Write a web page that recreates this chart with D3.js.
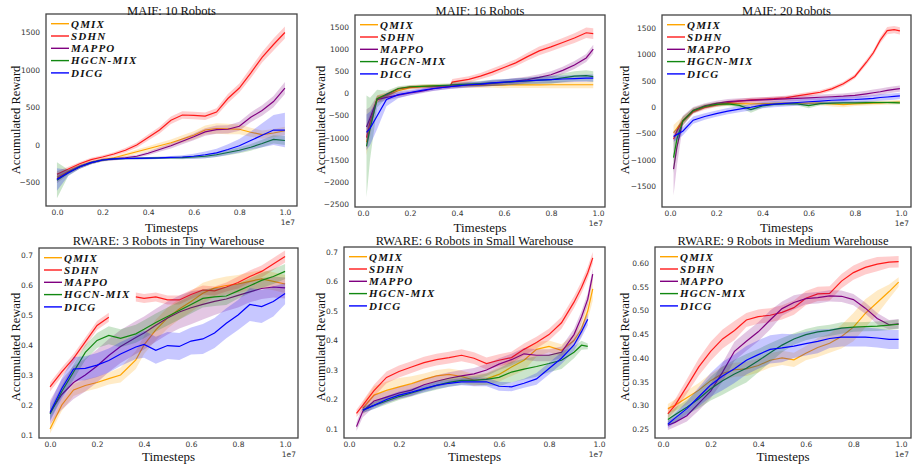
<!DOCTYPE html>
<html>
<head>
<meta charset="utf-8">
<script src="https://cdn.jsdelivr.net/npm/d3@7"></script>
<style>
body { margin: 0; background: #fff; }
svg { display: block; }
</style>
</head>
<body>
<svg id="chart" width="913" height="466"></svg>
<script>
// ---- data (timesteps in units of 1e7) ----
var methodNames = ["QMIX", "SDHN", "MAPPO", "HGCN-MIX", "DICG"];
var xTickValues = [0, 0.2, 0.4, 0.6, 0.8, 1.0];

// MAIF: 10 robots
var maif10T = [0, .05, .1, .15, .2, .25, .3, .35, .4, .45, .5, .55, .6, .65, .7, .75, .8, .85, .9, .95, 1.0];
var maif10Qmix = [-430, -350, -280, -230, -195, -170, -130, -90, -50, -10, 30, 80, 130, 200, 220, 215, 210, 170, 140, 160, 190];
var maif10QmixBand = [50, 30, 25, 20, 20, 20, 25, 30, 35, 40, 45, 50, 55, 60, 70, 70, 65, 60, 55, 55, 55];
var maif10Sdhn = [-390, -320, -250, -195, -160, -120, -70, 0, 100, 200, 330, 400, 395, 385, 440, 620, 760, 960, 1170, 1340, 1500];
var maif10SdhnBand = [40, 30, 25, 25, 25, 25, 30, 35, 40, 45, 50, 50, 50, 50, 50, 60, 60, 70, 70, 80, 80];
var maif10Mappo = [-450, -360, -290, -235, -200, -185, -170, -150, -110, -60, -10, 50, 110, 175, 205, 210, 250, 370, 460, 580, 760];
var maif10MappoBand = [60, 30, 25, 20, 20, 20, 20, 20, 25, 30, 35, 40, 45, 50, 55, 55, 60, 65, 70, 75, 80];
var maif10Hgcn = [-470, -370, -290, -235, -200, -185, -180, -178, -175, -172, -170, -168, -160, -150, -130, -100, -70, -30, 20, 75, 60];
var maif10HgcnBand = [240, 40, 25, 20, 15, 15, 15, 15, 15, 15, 15, 20, 20, 25, 30, 35, 40, 45, 50, 55, 60];
var maif10Dicg = [-460, -370, -290, -235, -200, -185, -180, -178, -175, -172, -165, -160, -150, -130, -105, -60, -10, 60, 130, 200, 200];
var maif10DicgBand = [150, 40, 25, 20, 15, 15, 15, 15, 15, 15, 20, 25, 35, 45, 55, 70, 90, 120, 160, 200, 230];
var maif10YTicks = [-500, 0, 500, 1000, 1500];

// MAIF: 16 robots
var maif16T = [0.015, 0.03, 0.06, 0.1, 0.15, 0.2, 0.25, 0.3, 0.37, 0.38, 0.45, 0.5, 0.55, 0.6, 0.65, 0.7, 0.75, 0.8, 0.85, 0.9, 0.95, 0.98];
var maif16Qmix = [-1100, -770, -120, -50, 60, 130, 158, 170, 178, 180, 180, 182, 185, 188, 190, 192, 193, 195, 195, 195, 195, 195];
var maif16QmixBand = [300, 200, 80, 60, 50, 40, 40, 40, 40, 60, 60, 60, 60, 70, 70, 70, 70, 80, 80, 80, 80, 80];
var maif16Sdhn = [-1000, -650, -130, -30, 100, 140, 150, 150, 150, 255, 315, 390, 480, 585, 690, 830, 960, 1050, 1150, 1250, 1370, 1350];
var maif16SdhnBand = [300, 200, 80, 50, 40, 40, 40, 40, 40, 70, 70, 70, 80, 80, 80, 90, 100, 100, 100, 110, 120, 120];
var maif16Mappo = [-760, -560, -140, -90, -40, 10, 52, 105, 155, 160, 190, 205, 225, 250, 275, 310, 360, 420, 520, 640, 800, 1000];
var maif16MappoBand = [400, 250, 80, 70, 60, 50, 50, 50, 50, 50, 50, 60, 60, 60, 70, 70, 70, 80, 80, 90, 90, 100];
var maif16Hgcn = [-1200, -800, -120, -20, 110, 150, 160, 170, 185, 195, 210, 220, 235, 250, 265, 280, 300, 310, 350, 390, 400, 380];
var maif16HgcnBand = [1150, 700, 200, 80, 50, 40, 40, 40, 40, 60, 60, 60, 70, 70, 70, 80, 80, 90, 100, 110, 120, 120];
var maif16Dicg = [-880, -790, -510, -140, -30, 20, 68, 110, 150, 160, 195, 210, 235, 255, 270, 285, 300, 310, 325, 335, 345, 345];
var maif16DicgBand = [400, 380, 300, 150, 80, 60, 50, 50, 50, 60, 60, 60, 70, 70, 70, 70, 80, 80, 80, 80, 80, 80];
var maif16YTicks = [-2500, -2000, -1500, -1000, -500, 0, 500, 1000, 1500];

// MAIF: 20 robots
var maif20T = [0.015, 0.03, 0.055, 0.1, 0.15, 0.2, 0.25, 0.3, 0.35, 0.4, 0.45, 0.5, 0.55, 0.6, 0.65, 0.7, 0.75, 0.8, 0.85, 0.88, 0.91, 0.94, 0.97, 0.995];
var maif20Qmix = [-490, -400, -266, -70, 10, 50, 63, 65, 60, 65, 70, 72, 75, 75, 72, 60, 45, 60, 70, 75, 80, 85, 90, 95];
var maif20QmixBand = [150, 120, 80, 50, 40, 40, 40, 40, 40, 30, 30, 30, 30, 30, 40, 50, 50, 40, 40, 40, 40, 40, 40, 40];
var maif20Sdhn = [-610, -450, -266, -90, -10, 40, 82, 110, 135, 146, 158, 175, 210, 245, 280, 345, 440, 580, 850, 1030, 1270, 1450, 1470, 1445];
var maif20SdhnBand = [60, 50, 40, 40, 40, 40, 40, 40, 40, 40, 40, 40, 40, 40, 40, 40, 40, 40, 50, 50, 60, 70, 70, 70];
var maif20Mappo = [-1180, -750, -266, -60, 20, 70, 101, 115, 125, 135, 145, 155, 165, 175, 185, 195, 205, 220, 250, 270, 290, 315, 335, 350];
var maif20MappoBand = [500, 350, 100, 60, 50, 50, 50, 50, 50, 50, 50, 50, 50, 50, 50, 50, 50, 60, 60, 60, 60, 60, 60, 60];
var maif20Hgcn = [-960, -600, -266, -70, 10, 50, 60, 30, -50, 20, 50, 60, 60, 25, 65, 75, 80, 80, 82, 85, 85, 85, 82, 80];
var maif20HgcnBand = [300, 200, 80, 50, 40, 40, 40, 40, 60, 40, 30, 30, 30, 50, 30, 30, 30, 30, 30, 30, 30, 30, 30, 30];
var maif20Dicg = [-560, -520, -460, -250, -180, -125, -80, -40, -5, 35, 55, 70, 85, 100, 112, 128, 135, 142, 155, 165, 180, 190, 200, 210];
var maif20DicgBand = [100, 100, 80, 70, 60, 60, 60, 60, 60, 60, 60, 60, 60, 60, 60, 60, 60, 60, 60, 60, 60, 60, 60, 60];
var maif20YTicks = [-1500, -1000, -500, 0, 500, 1000, 1500];

// RWARE: 3 robots, tiny warehouse
var tinyT = [0, .05, .1, .15, .2, .25, .3, .365, .4, .45, .5, .55, .6, .65, .7, .75, .8, .85, .9, .95, 1.0];
var tinyQmix = [0.12, 0.2, 0.25, 0.265, 0.275, 0.288, 0.3, 0.35, 0.4, 0.45, 0.49, 0.52, 0.545, 0.572, 0.59, 0.598, 0.603, 0.612, 0.62, 0.612, 0.603];
var tinyQmixBand = [0.015, 0.02, 0.02, 0.02, 0.02, 0.02, 0.025, 0.03, 0.03, 0.035, 0.035, 0.035, 0.035, 0.035, 0.03, 0.03, 0.03, 0.03, 0.03, 0.03, 0.03];
var tinySdhn = [0.26, 0.31, 0.355, 0.41, 0.465, 0.492, null, 0.56, 0.555, 0.56, 0.55, 0.55, 0.568, 0.583, 0.58, 0.593, 0.608, 0.628, 0.645, 0.67, 0.695];
var tinySdhnBand = [0.015, 0.015, 0.015, 0.015, 0.015, 0.015, 0.015, 0.015, 0.015, 0.015, 0.015, 0.015, 0.015, 0.015, 0.015, 0.015, 0.02, 0.02, 0.02, 0.02, 0.02];
var tinyMappo = [0.175, 0.235, 0.275, 0.3, 0.33, 0.365, 0.395, 0.425, 0.44, 0.466, 0.49, 0.51, 0.524, 0.535, 0.545, 0.553, 0.565, 0.577, 0.588, 0.593, 0.59];
var tinyMappoBand = [0.04, 0.05, 0.055, 0.055, 0.055, 0.055, 0.055, 0.055, 0.055, 0.055, 0.055, 0.055, 0.055, 0.05, 0.045, 0.04, 0.04, 0.035, 0.035, 0.035, 0.035];
var tinyHgcn = [0.17, 0.245, 0.31, 0.375, 0.415, 0.432, 0.422, 0.437, 0.452, 0.475, 0.495, 0.515, 0.535, 0.555, 0.56, 0.563, 0.58, 0.597, 0.615, 0.628, 0.645];
var tinyHgcnBand = [0.02, 0.02, 0.025, 0.025, 0.025, 0.03, 0.03, 0.03, 0.03, 0.03, 0.03, 0.03, 0.03, 0.03, 0.03, 0.03, 0.025, 0.025, 0.025, 0.025, 0.025];
var tinyDicg = [0.175, 0.255, 0.32, 0.322, 0.333, 0.348, 0.37, 0.393, 0.402, 0.382, 0.398, 0.395, 0.413, 0.42, 0.44, 0.472, 0.5, 0.535, 0.528, 0.545, 0.571];
var tinyDicgBand = [0.03, 0.035, 0.04, 0.04, 0.04, 0.04, 0.04, 0.04, 0.045, 0.045, 0.045, 0.045, 0.045, 0.05, 0.05, 0.05, 0.05, 0.055, 0.055, 0.05, 0.035];
var tinyYTicks = [0.1, 0.2, 0.3, 0.4, 0.5, 0.6, 0.7];

// RWARE: 6 robots, small warehouse
var smallT = [0.03, 0.055, 0.1, 0.15, 0.2, 0.25, 0.3, 0.35, 0.4, 0.45, 0.5, 0.55, 0.6, 0.65, 0.7, 0.75, 0.8, 0.85, 0.9, 0.93, 0.955, 0.975];
var smallQmix = [null, 0.17, 0.215, 0.231, 0.243, 0.254, 0.268, 0.28, 0.285, 0.278, 0.266, 0.27, 0.285, 0.31, 0.333, 0.37, 0.38, 0.367, 0.4, 0.44, 0.5, 0.575];
var smallQmixBand = [0.02, 0.02, 0.03, 0.03, 0.03, 0.025, 0.02, 0.02, 0.02, 0.02, 0.02, 0.02, 0.025, 0.03, 0.035, 0.025, 0.02, 0.02, 0.02, 0.025, 0.03, 0.04];
var smallSdhn = [0.153, 0.18, 0.23, 0.275, 0.295, 0.31, 0.325, 0.335, 0.342, 0.35, 0.34, 0.322, 0.333, 0.342, 0.37, 0.393, 0.42, 0.46, 0.53, 0.58, 0.63, 0.68];
var smallSdhnBand = [0.012, 0.015, 0.02, 0.02, 0.02, 0.02, 0.02, 0.02, 0.02, 0.02, 0.02, 0.02, 0.02, 0.02, 0.02, 0.02, 0.02, 0.02, 0.02, 0.02, 0.02, 0.02];
var smallMappo = [0.108, 0.16, 0.195, 0.208, 0.222, 0.232, 0.25, 0.262, 0.272, 0.28, 0.287, 0.3, 0.32, 0.335, 0.355, 0.35, 0.35, 0.36, 0.42, 0.48, 0.54, 0.625];
var smallMappoBand = [0.015, 0.02, 0.02, 0.02, 0.02, 0.02, 0.02, 0.02, 0.02, 0.02, 0.02, 0.02, 0.02, 0.02, 0.02, 0.02, 0.02, 0.02, 0.02, 0.02, 0.02, 0.02];
var smallHgcn = [null, 0.164, 0.18, 0.195, 0.21, 0.222, 0.235, 0.248, 0.258, 0.265, 0.265, 0.268, 0.275, 0.293, 0.303, 0.312, 0.322, 0.333, 0.36, 0.384, 0.38, null];
var smallHgcnBand = [0.01, 0.01, 0.012, 0.012, 0.012, 0.012, 0.012, 0.015, 0.015, 0.015, 0.015, 0.02, 0.03, 0.035, 0.035, 0.035, 0.03, 0.03, 0.02, 0.015, 0.01, 0.01];
var smallDicg = [null, 0.164, 0.18, 0.2, 0.215, 0.225, 0.237, 0.248, 0.255, 0.26, 0.26, 0.26, 0.245, 0.243, 0.255, 0.27, 0.305, 0.34, 0.385, 0.43, 0.472, null];
var smallDicgBand = [0.01, 0.01, 0.012, 0.012, 0.012, 0.012, 0.012, 0.012, 0.012, 0.012, 0.015, 0.015, 0.015, 0.015, 0.015, 0.02, 0.02, 0.02, 0.02, 0.02, 0.02, 0.02];
var smallYTicks = [0.1, 0.2, 0.3, 0.4, 0.5, 0.6, 0.7];

// RWARE: 9 robots, medium warehouse
var mediumT = [0.02, .05, .1, .15, .2, .25, .3, .35, .4, .45, .5, .55, .6, .65, .7, .75, .8, .85, .9, .95, 0.99];
var mediumQmix = [0.293, 0.3, 0.316, 0.332, 0.352, 0.367, 0.375, 0.377, 0.384, 0.395, 0.4, 0.396, 0.41, 0.422, 0.431, 0.445, 0.465, 0.494, 0.517, 0.54, 0.56];
var mediumQmixBand = [0.01, 0.012, 0.015, 0.015, 0.015, 0.015, 0.015, 0.015, 0.015, 0.015, 0.015, 0.015, 0.015, 0.02, 0.02, 0.025, 0.03, 0.03, 0.025, 0.015, 0.01];
var mediumSdhn = [0.282, 0.3, 0.34, 0.381, 0.414, 0.44, 0.458, 0.48, 0.487, 0.49, 0.496, 0.506, 0.526, 0.535, 0.536, 0.562, 0.58, 0.591, 0.598, 0.602, 0.603];
var mediumSdhnBand = [0.01, 0.012, 0.015, 0.018, 0.02, 0.02, 0.02, 0.015, 0.015, 0.015, 0.015, 0.015, 0.015, 0.015, 0.015, 0.015, 0.015, 0.015, 0.015, 0.012, 0.012];
var mediumMappo = [0.258, 0.264, 0.278, 0.304, 0.33, 0.37, 0.414, 0.435, 0.455, 0.48, 0.504, 0.517, 0.525, 0.527, 0.531, 0.53, 0.523, 0.505, 0.483, 0.47, 0.472];
var mediumMappoBand = [0.01, 0.01, 0.012, 0.015, 0.015, 0.02, 0.02, 0.02, 0.02, 0.02, 0.015, 0.015, 0.012, 0.012, 0.012, 0.012, 0.012, 0.012, 0.012, 0.01, 0.01];
var mediumHgcn = [0.27, 0.28, 0.296, 0.314, 0.335, 0.352, 0.366, 0.378, 0.394, 0.411, 0.427, 0.44, 0.449, 0.455, 0.458, 0.463, 0.465, 0.466, 0.467, 0.469, 0.471];
var mediumHgcnBand = [0.012, 0.015, 0.015, 0.02, 0.025, 0.03, 0.03, 0.03, 0.025, 0.02, 0.015, 0.012, 0.012, 0.012, 0.012, 0.012, 0.01, 0.01, 0.01, 0.01, 0.01];
var mediumDicg = [0.26, 0.273, 0.293, 0.318, 0.343, 0.362, 0.377, 0.395, 0.407, 0.418, 0.421, 0.425, 0.43, 0.435, 0.441, 0.444, 0.444, 0.444, 0.442, 0.439, 0.439];
var mediumDicgBand = [0.008, 0.01, 0.015, 0.02, 0.025, 0.03, 0.03, 0.03, 0.03, 0.03, 0.03, 0.025, 0.025, 0.025, 0.02, 0.02, 0.02, 0.02, 0.02, 0.02, 0.02];
var mediumYTicks = [0.25, 0.30, 0.35, 0.40, 0.45, 0.50, 0.55, 0.60];

// ---- layout ----
var colors = ["#ffa500", "#ff1a1a", "#800080", "#118811", "#0000ff"];
var serif = "'Liberation Serif', 'Times New Roman', serif";
var sans = "'DejaVu Sans', sans-serif";

var panels = [
    { title: "MAIF:  10 Robots", t: maif10T,
      means: [maif10Qmix, maif10Sdhn, maif10Mappo, maif10Hgcn, maif10Dicg],
      bands: [maif10QmixBand, maif10SdhnBand, maif10MappoBand, maif10HgcnBand, maif10DicgBand],
      yTicks: maif10YTicks, fmt: "d",
      box: [46, 14, 297, 206], xDom: [-0.048, 1.053], yDom: [-813, 1747],
      titleY: 15, labelX: 16, labelY: 120, xLabelY: 232 },
    { title: "MAIF:  16 Robots", t: maif16T,
      means: [maif16Qmix, maif16Sdhn, maif16Mappo, maif16Hgcn, maif16Dicg],
      bands: [maif16QmixBand, maif16SdhnBand, maif16MappoBand, maif16HgcnBand, maif16DicgBand],
      yTicks: maif16YTicks, fmt: "d",
      box: [355, 15, 605, 207], xDom: [-0.034, 1.03], yDom: [-2568, 1771],
      titleY: 15, labelX: 321, labelY: 120, xLabelY: 232 },
    { title: "MAIF:  20 Robots", t: maif20T,
      means: [maif20Qmix, maif20Sdhn, maif20Mappo, maif20Hgcn, maif20Dicg],
      bands: [maif20QmixBand, maif20SdhnBand, maif20MappoBand, maif20HgcnBand, maif20DicgBand],
      yTicks: maif20YTicks, fmt: "d",
      box: [662, 15, 911, 207], xDom: [-0.035, 1.043], yDom: [-1899, 1747],
      titleY: 15, labelX: 625, labelY: 120, xLabelY: 232 },
    { title: "RWARE: 3 Robots in Tiny Warehouse", t: tinyT,
      means: [tinyQmix, tinySdhn, tinyMappo, tinyHgcn, tinyDicg],
      bands: [tinyQmixBand, tinySdhnBand, tinyMappoBand, tinyHgcnBand, tinyDicgBand],
      yTicks: tinyYTicks, fmt: ".1f",
      box: [39, 248, 298, 438], xDom: [-0.047, 1.055], yDom: [0.09, 0.723],
      titleY: 245, labelX: 16, labelY: 347, xLabelY: 461 },
    { title: "RWARE: 6 Robots in Small Warehouse", t: smallT,
      means: [smallQmix, smallSdhn, smallMappo, smallHgcn, smallDicg],
      bands: [smallQmixBand, smallSdhnBand, smallMappoBand, smallHgcnBand, smallDicgBand],
      yTicks: smallYTicks, fmt: ".1f",
      box: [344, 247, 605, 438], xDom: [-0.02, 1.024], yDom: [0.0695, 0.717],
      titleY: 245, labelX: 321, labelY: 347, xLabelY: 461 },
    { title: "RWARE:  9 Robots in Medium Warehouse", t: mediumT,
      means: [mediumQmix, mediumSdhn, mediumMappo, mediumHgcn, mediumDicg],
      bands: [mediumQmixBand, mediumSdhnBand, mediumMappoBand, mediumHgcnBand, mediumDicgBand],
      yTicks: mediumYTicks, fmt: ".2f",
      box: [655, 247, 911, 438], xDom: [-0.034, 1.042], yDom: [0.231, 0.634],
      titleY: 245, labelX: 625, labelY: 347, xLabelY: 461 }
];

var svg = d3.select("#chart");

panels.forEach(function (p, pi) {
    var left = p.box[0], top = p.box[1], right = p.box[2], bottom = p.box[3];
    var x = d3.scaleLinear().domain(p.xDom).range([left, right]);
    var y = d3.scaleLinear().domain(p.yDom).range([bottom, top]);
    var g = svg.append("g");

    g.append("clipPath").attr("id", "clip" + pi)
        .append("rect").attr("x", left).attr("y", top)
        .attr("width", right - left).attr("height", bottom - top);

    var plot = g.append("g").attr("clip-path", "url(#clip" + pi + ")");

    methodNames.forEach(function (name, si) {
        var pts = p.t.map(function (t, i) {
            return { t: t, m: p.means[si][i], b: p.bands[si][i] };
        });
        var area = d3.area()
            .defined(function (d) { return d.m != null; })
            .x(function (d) { return x(d.t); })
            .y0(function (d) { return y(d.m - d.b); })
            .y1(function (d) { return y(d.m + d.b); });
        var line = d3.line()
            .defined(function (d) { return d.m != null; })
            .x(function (d) { return x(d.t); })
            .y(function (d) { return y(d.m); });
        plot.append("path").datum(pts)
            .attr("d", area)
            .attr("fill", colors[si])
            .attr("fill-opacity", 0.22);
        plot.append("path").datum(pts)
            .attr("d", line)
            .attr("fill", "none")
            .attr("stroke", colors[si])
            .attr("stroke-width", 1.2);
    });

    // frame
    g.append("rect")
        .attr("x", left).attr("y", top)
        .attr("width", right - left).attr("height", bottom - top)
        .attr("fill", "none").attr("stroke", "#444").attr("stroke-width", 1.3);

    // axes
    var yAxis = g.append("g").attr("transform", "translate(" + left + ",0)")
        .call(d3.axisLeft(y).tickValues(p.yTicks).tickFormat(d3.format(p.fmt)).tickSize(0).tickPadding(6));
    var xAxis = g.append("g").attr("transform", "translate(0," + bottom + ")")
        .call(d3.axisBottom(x).tickValues(xTickValues).tickFormat(d3.format(".1f")).tickSize(0).tickPadding(4));
    [yAxis, xAxis].forEach(function (ax) {
        ax.select(".domain").remove();
        ax.attr("font-family", sans).attr("font-size", 7.5);
        ax.selectAll("text").attr("fill", "#333");
    });

    g.append("text")
        .attr("x", right - 2).attr("y", bottom + 19)
        .attr("text-anchor", "end")
        .attr("font-family", sans).attr("font-size", 7.5).attr("fill", "#333")
        .text("1e7");

    // titles and labels
    g.append("text")
        .attr("x", (left + right) / 2).attr("y", p.titleY)
        .attr("text-anchor", "middle")
        .attr("font-family", serif).attr("font-size", 12.5).attr("fill", "#111")
        .text(p.title);

    g.append("text")
        .attr("x", (left + right) / 2).attr("y", p.xLabelY)
        .attr("text-anchor", "middle")
        .attr("font-family", serif).attr("font-size", 13).attr("fill", "#111")
        .text("Timesteps");

    g.append("text")
        .attr("transform", "translate(" + (p.labelX + 4) + "," + p.labelY + ") rotate(-90)")
        .attr("text-anchor", "middle")
        .attr("font-family", serif).attr("font-size", 12.5).attr("fill", "#111")
        .text("Accumulated Reward");

    // legend
    var leg = g.append("g");
    methodNames.forEach(function (name, si) {
        var ly = top + 9.7 + si * 12.3;
        leg.append("line")
            .attr("x1", left + 5).attr("x2", left + 23)
            .attr("y1", ly).attr("y2", ly)
            .attr("stroke", colors[si]).attr("stroke-width", 1.4);
        leg.append("text")
            .attr("x", left + 25).attr("y", ly).attr("dy", "0.35em")
            .attr("font-family", serif).attr("font-size", 11)
            .attr("font-weight", "bold").attr("font-style", "italic")
            .attr("letter-spacing", 1.2)
            .attr("fill", "#111")
            .text(name);
    });
});
</script>
</body>
</html>
